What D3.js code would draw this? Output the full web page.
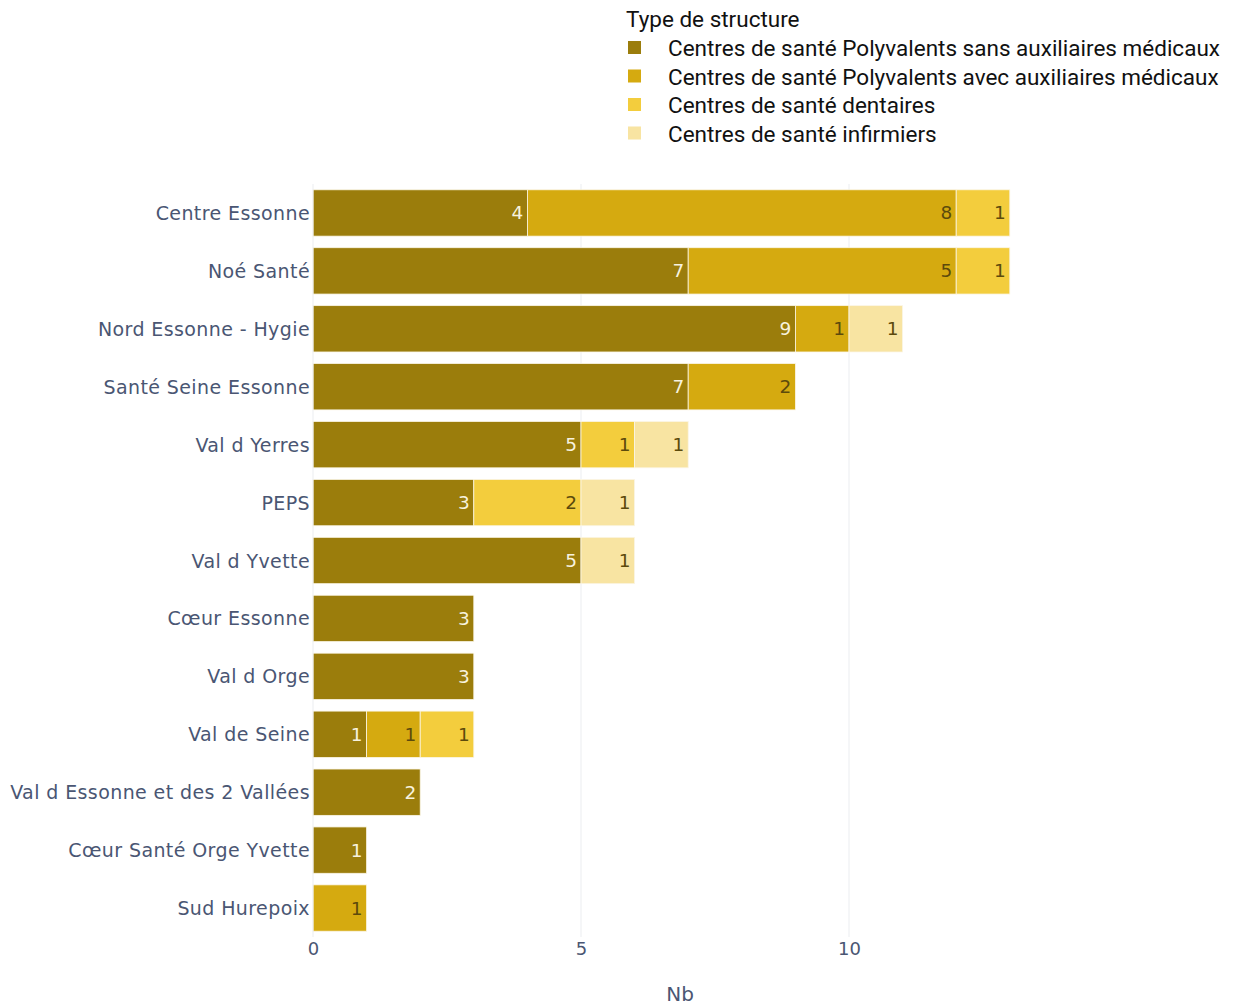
<!DOCTYPE html>
<html><head><meta charset="utf-8">
<script src="https://cdn.jsdelivr.net/npm/d3@7"></script>
<style>body{margin:0;background:#fff}svg{display:block}</style>
</head><body>
<svg id="c" width="1241" height="1007"></svg>
<script>
const categories = ["Centre Essonne","Noé Santé","Nord Essonne - Hygie","Santé Seine Essonne","Val d Yerres","PEPS","Val d Yvette","Cœur Essonne","Val d Orge","Val de Seine","Val d Essonne et des 2 Vallées","Cœur Santé Orge Yvette","Sud Hurepoix"];
const seriesNames = ["Centres de santé Polyvalents sans auxiliaires médicaux","Centres de santé Polyvalents avec auxiliaires médicaux","Centres de santé dentaires","Centres de santé infirmiers"];
const sansAux  = [4,7,9,7,5,3,5,3,3,1,2,1,0];
const avecAux  = [8,5,1,2,0,0,0,0,0,1,0,0,1];
const dentaires= [1,1,0,0,1,2,0,0,0,1,0,0,0];
const infirmiers=[0,0,1,0,1,1,1,0,0,0,0,0,0];
const xTicks = [0,5,10];
const legendTitle = "Type de structure";
const xTitle = "Nb";
const colors = ["#9b7d0c","#d5aa10","#f3cd3d","#f8e4a2"];
const labelColors = ["#f7f2de","#5c4a0c","#5c4a0c","#5c4a0c"];

const seriesVals = [sansAux, avecAux, dentaires, infirmiers];
const rows = categories.map((c,i)=>{const o={cat:c}; seriesNames.forEach((s,j)=>o[s]=seriesVals[j][i]); return o;});
const stack = d3.stack().keys(seriesNames)(rows);

const svg = d3.select("#c");
const x = d3.scaleLinear().domain([0,10]).range([313,849]);
const y = d3.scaleBand().domain(categories).range([184,937]).paddingInner(0.2).paddingOuter(0.1);
const F = "DejaVu Sans, Verdana, sans-serif";

// gridlines
svg.append("g").selectAll("line").data(xTicks.filter(t=>t>0)).join("line")
  .attr("x1",d=>x(d)).attr("x2",d=>x(d)).attr("y1",184).attr("y2",937)
  .attr("stroke","#ebedf0").attr("stroke-width",1);

// bars
stack.forEach((layer,j)=>{
  const g = svg.append("g");
  layer.forEach((d,i)=>{
    if (d[1]-d[0] <= 0) return;
    g.append("rect").attr("x",x(d[0])).attr("y",y(categories[i]))
      .attr("width",x(d[1])-x(d[0])).attr("height",y.bandwidth())
      .attr("fill",colors[j]).attr("stroke","#fbf6e6").attr("stroke-width",0.8);
    g.append("text").attr("x",x(d[1])-4).attr("y",y(categories[i])+y.bandwidth()/2)
      .attr("text-anchor","end").attr("dominant-baseline","central")
      .attr("font-family",F).attr("font-size",18.5).attr("font-weight",500)
      .attr("fill",labelColors[j]).text(d[1]-d[0]);
  });
});

// zero line
svg.append("line").attr("x1",x(0)).attr("x2",x(0)).attr("y1",184).attr("y2",937)
  .attr("stroke","#ebedf0");

// y axis labels
svg.append("g").selectAll("text").data(categories).join("text")
  .attr("x",310).attr("y",d=>y(d)+y.bandwidth()/2)
  .attr("text-anchor","end").attr("dominant-baseline","central")
  .attr("font-family",F).attr("font-size",19).attr("letter-spacing",0.4)
  .attr("fill","#4a5673").text(d=>d);

// x axis
const xa = svg.append("g").attr("transform","translate(0,940)")
  .call(d3.axisBottom(x).tickValues(xTicks).tickSize(0).tickPadding(2));
xa.select(".domain").remove();
xa.selectAll("text").attr("font-family",F).attr("font-size",18).attr("fill","#4a5673");
svg.append("text").attr("x",680).attr("y",994).attr("text-anchor","middle").attr("dominant-baseline","central")
  .attr("font-family",F).attr("font-size",20).attr("fill","#4a5673").text(xTitle);

// legend
const lg = svg.append("g");
lg.append("text").attr("x",626).attr("y",19).attr("dominant-baseline","central")
  .attr("font-family","Roboto, sans-serif").attr("font-size",22.5).attr("fill","#111").text(legendTitle);
seriesNames.forEach((s,j)=>{
  const cy = 48 + j*28.5;
  lg.append("rect").attr("x",628).attr("y",cy-7).attr("width",13).attr("height",13).attr("fill",colors[j]);
  lg.append("text").attr("x",668).attr("y",cy).attr("dominant-baseline","central")
    .attr("font-family","Roboto, sans-serif").attr("font-size",22.5).attr("fill","#111").text(s);
});
</script>
</body></html>
